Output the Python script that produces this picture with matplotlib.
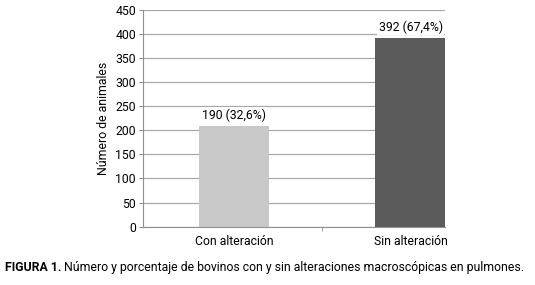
import matplotlib.pyplot as plt
import numpy as np

plt.rcParams['font.family'] = ['Roboto', 'DejaVu Sans']

# datos
categorias = ['Con alteración', 'Sin alteración']
valores = [208, 392]          # altura de las barras
etiquetas = ['190 (32,6%)', '392 (67,4%)']
colores = ['#c8c8c8', '#5b5b5b']
yticks = np.arange(0, 451, 50)

fig = plt.figure(figsize=(5.35, 2.85), dpi=100)
ax = fig.add_axes([0.267, 0.205, 0.565, 0.76])

x = np.arange(len(categorias))
ax.bar(x, valores, width=0.40, color=colores, zorder=2)

# etiquetas sobre las barras
for xi, v, t in zip(x, valores, etiquetas):
    ax.text(xi, v + 9, t, ha='center', va='bottom', fontsize=8.8,
            bbox=dict(facecolor='white', edgecolor='none', pad=1), zorder=3)

ax.set_xlim(-0.516, 1.195)
ax.set_ylim(0, 450)
ax.set_yticks(yticks)
ax.set_xticks(x)
ax.set_xticklabels(categorias, fontsize=8.8)
ax.set_xticks([0.5], minor=True)
ax.tick_params(axis='x', which='major', length=0, pad=6)
ax.tick_params(axis='x', which='minor', length=3, color='#909090')
ax.tick_params(axis='y', length=3, color='#909090', labelsize=8.8, pad=2)

ax.grid(axis='y', color='#a8a8a8', linewidth=0.9, zorder=0)
for s in ['top', 'right']:
    ax.spines[s].set_visible(False)
ax.spines['left'].set_color('#909090')
ax.spines['bottom'].set_color('#909090')

ax.set_ylabel('Número de animales', fontsize=8.8, labelpad=4)

# leyenda de la figura
t1 = fig.text(0.009, 0.04, 'FIGURA 1.', fontsize=8.8, fontweight='bold', va='bottom')
ax.annotate(' Número y porcentaje de bovinos con y sin alteraciones macroscópicas en pulmones.',
            xy=(1, 0), xycoords=t1, va='bottom', ha='left', fontsize=8.8,
            annotation_clip=False)

plt.savefig('out.png', dpi=100)
